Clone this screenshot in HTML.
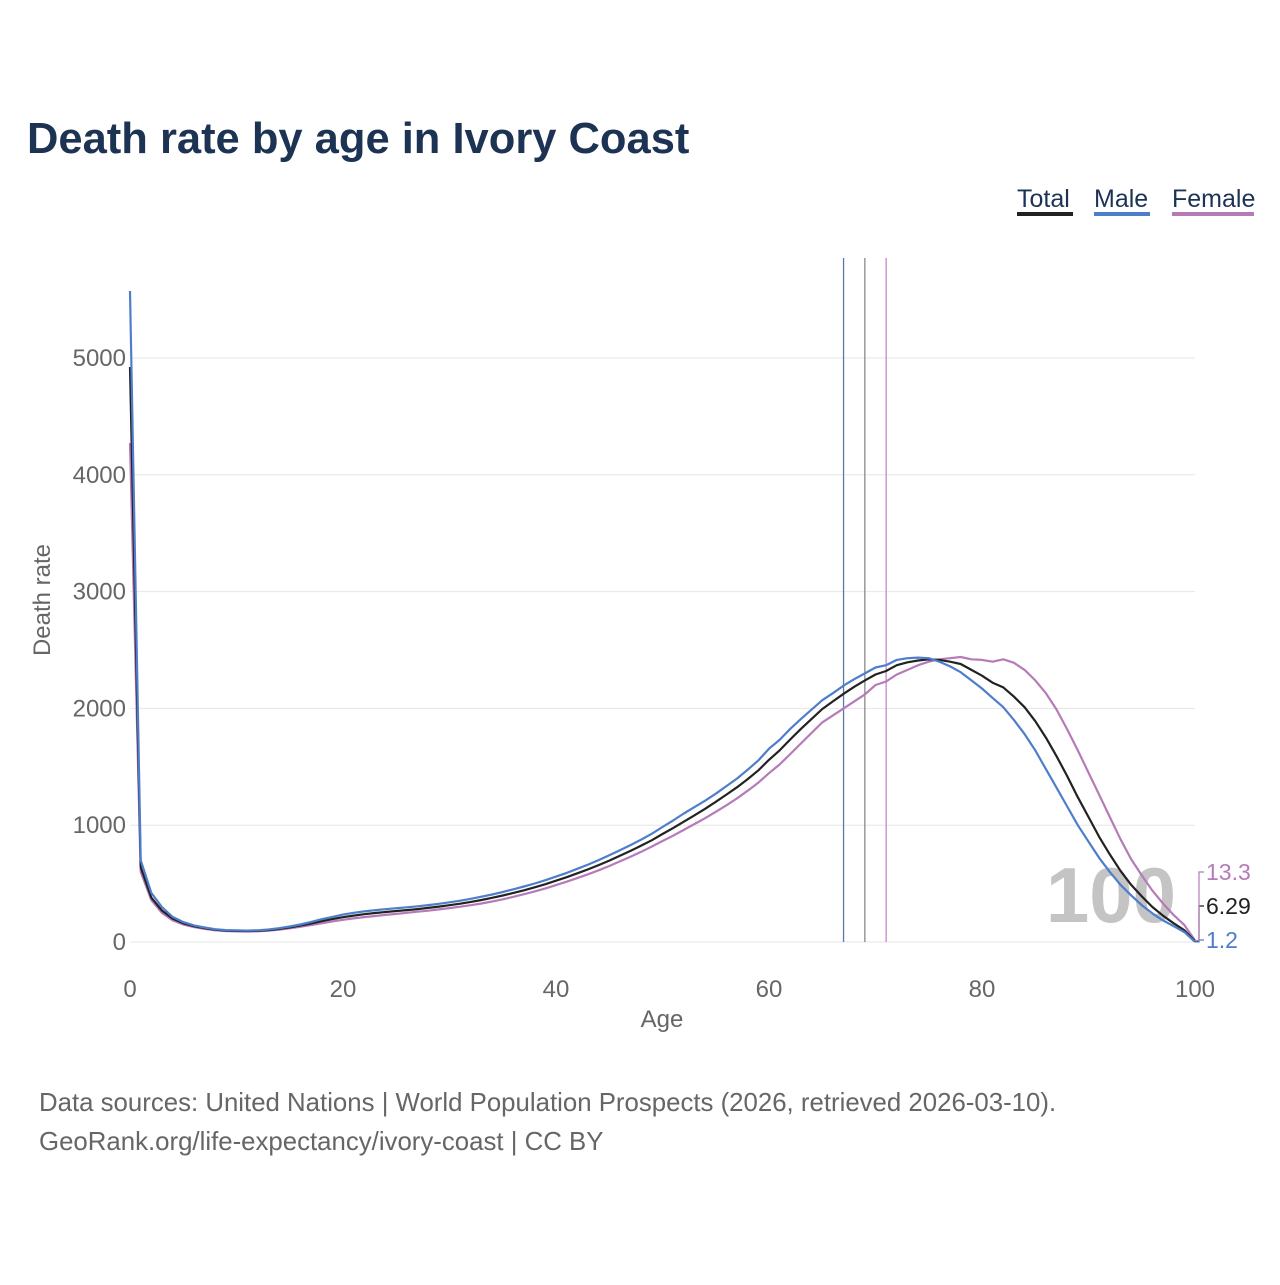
<!DOCTYPE html>
<html><head><meta charset="utf-8"><style>
body{margin:0;background:#fff;font-family:"Liberation Sans",sans-serif}
</style></head><body>
<svg width="1280" height="1280" xmlns="http://www.w3.org/2000/svg" font-family="Liberation Sans, sans-serif">
<text x="27" y="153" font-size="43.5" font-weight="bold" fill="#1d3354">Death rate by age in Ivory Coast</text>
<g id="legend"></g>
<g id="grid"></g>
<text x="1176" y="922" font-size="78" font-weight="bold" fill="#c4c4c4" text-anchor="end">100</text>
<g id="plot"></g>
<text transform="translate(50,600) rotate(-90)" font-size="24" fill="#666" text-anchor="middle">Death rate</text>
<text x="662" y="1027" font-size="24" fill="#666" text-anchor="middle">Age</text>
<text x="39" y="1111" font-size="25.8" fill="#666">Data sources: United Nations | World Population Prospects (2026, retrieved 2026-03-10).</text>
<text x="39" y="1150" font-size="25.8" fill="#666">GeoRank.org/life-expectancy/ivory-coast | CC BY</text>
</svg>
<script>
const xTicks=[0,20,40,60,80,100];
const yTicks=[0,1000,2000,3000,4000,5000];
const seriesNames=["Total","Male","Female"];
const lifeExp=[69,67,71];
const total=[4923,640,380,270,200,160,135,118,105,98,95,94,96,102,112,125,140,158,178,196,212,226,238,248,257,265,273,282,292,303,315,328,343,360,378,398,420,443,468,495,525,555,588,622,658,697,738,780,825,872,925,975,1030,1085,1140,1200,1262,1325,1395,1470,1560,1640,1735,1825,1910,1995,2060,2125,2185,2240,2290,2320,2370,2395,2410,2420,2415,2400,2380,2330,2280,2220,2180,2100,2010,1890,1750,1590,1420,1240,1070,900,750,610,490,390,300,225,160,100,6.29];
const male=[5574,700,420,300,215,170,142,124,110,102,99,98,100,107,118,133,150,172,195,215,235,250,262,272,281,289,297,306,316,327,340,354,370,388,407,428,451,475,501,529,560,592,627,663,701,742,785,830,877,927,985,1040,1100,1155,1210,1270,1335,1400,1475,1555,1655,1730,1825,1910,1990,2070,2130,2195,2250,2300,2350,2370,2415,2430,2435,2430,2400,2360,2310,2240,2170,2090,2010,1900,1780,1640,1480,1320,1160,1000,860,720,600,490,400,315,245,185,135,85,1.2];
const female=[4272,600,360,250,185,150,128,112,100,94,91,90,92,97,106,117,130,145,160,176,190,202,213,223,232,241,250,259,268,279,290,302,315,330,347,366,387,409,433,459,487,516,547,580,614,651,690,730,772,818,865,910,960,1010,1060,1115,1170,1230,1295,1365,1445,1520,1610,1700,1790,1880,1940,2000,2060,2120,2200,2230,2290,2330,2370,2400,2420,2430,2440,2420,2415,2400,2420,2390,2330,2240,2130,1990,1820,1640,1450,1260,1070,880,710,570,440,330,230,145,13.3];
const colors=["#222222","#4e7ecb","#b57bb8"];
const vColors=["#888888","#5a78a8","#c08cc4"];
const NS="http://www.w3.org/2000/svg";
const X=a=>130+a*10.65;
const Y=v=>942-v*0.1168;
function mk(t,p,parent){const e=document.createElementNS(NS,t);for(const k in p)e.setAttribute(k,p[k]);parent.appendChild(e);return e;}
const grid=document.getElementById('grid'),plot=document.getElementById('plot'),leg=document.getElementById('legend');
yTicks.forEach(v=>{
 const l=mk('line',{x1:130,x2:1195,y1:Y(v),y2:Y(v),stroke:'#e6e6e6','stroke-width':1},grid);
 
 
 const t=mk('text',{x:126,y:Y(v)+8,'font-size':24,fill:'#666','text-anchor':'end'},grid);t.textContent=v;
 
 
});
xTicks.forEach(a=>{
 const t=mk('text',{x:X(a),y:997,'font-size':24,fill:'#666','text-anchor':'middle'},grid);t.textContent=a;
 
 
});
lifeExp.forEach((a,i)=>{
 const l=mk('line',{x1:X(a),x2:X(a),y1:258,y2:942,stroke:vColors[i],'stroke-width':1.3},plot);
 
 
});
[female,total,male].forEach((s,j)=>{
 const i=[2,0,1][j];
 const d=s.map((v,a)=>(a?'L':'M')+X(a).toFixed(1)+','+Y(v).toFixed(1)).join('');
 const p=mk('path',{d:d,fill:'none',stroke:colors[i],'stroke-width':2.2,'stroke-linejoin':'round'},plot);
 
 
});
const series=[total,male,female];
const endY=[906,940,872];
[0,1,2].forEach(i=>{
 const v=series[i][100];
 const p=mk('path',{d:`M1195,${Y(v)}L1199,${Y(v)}L1199,${endY[i]}L1204,${endY[i]}`,fill:'none',stroke:colors[i],'stroke-width':1.2},plot);
 
 
 const t=mk('text',{x:1206,y:endY[i]+8,'font-size':23,fill:colors[i]},plot);t.textContent=v;
 
 
});
const lx=[1017,1094,1172],lw=[56,56,82];
seriesNames.forEach((n,i)=>{
 const t=mk('text',{x:lx[i],y:207,'font-size':25,fill:'#1d3354'},leg);t.textContent=n;
 
 
 const r=mk('rect',{x:lx[i],y:212,width:lw[i],height:4,fill:colors[i]},leg);
 
 
});
</script>
</body></html>
